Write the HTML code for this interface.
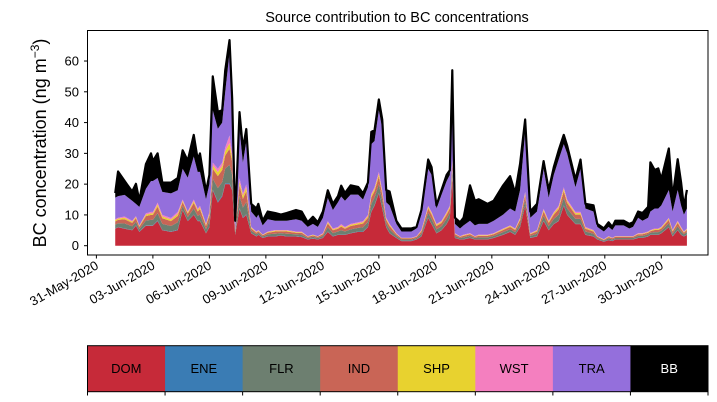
<!DOCTYPE html>
<html><head><meta charset="utf-8">
<style>
body{margin:0;background:#fff;}
svg{display:block;font-family:"Liberation Sans","DejaVu Sans",sans-serif;}
</style></head>
<body>
<svg id="chart" width="717" height="402" viewBox="0 0 717 402" xmlns="http://www.w3.org/2000/svg">
<rect width="717" height="402" fill="#fff"/>
<text x="397" y="22" font-size="14.5" text-anchor="middle">Source contribution to BC concentrations</text>
<text x="0" y="0" font-size="18" text-anchor="middle" transform="translate(46,143) rotate(-90)">BC concentration (ng m<tspan font-size="12" dy="-7">−3</tspan><tspan dy="7">)</tspan></text>
<g id="areas"></g>
<g id="axes"></g>
<rect x="87.5" y="30.5" width="620.5" height="224.5" fill="none" stroke="#000" stroke-width="1"/>
<g id="cbar"></g>
</svg>
<script>
const days = [1.0,1.15,1.5,1.9,2.1,2.28,2.63,2.9,3.0,3.25,3.5,3.96,4.32,4.58,4.85,5.17,5.38,5.5,5.82,6.0,6.18,6.45,6.68,6.84,7.07,7.21,7.37,7.6,7.78,7.96,8.22,8.5,8.6,8.83,9.1,9.5,9.8,10.1,10.6,10.9,11.22,11.5,11.76,12.03,12.29,12.56,12.83,13.0,13.2,13.5,13.9,14.16,14.42,14.6,14.77,15.0,15.18,15.39,15.57,15.93,16.2,16.73,17.0,17.26,17.62,17.8,18.06,18.33,18.6,18.77,18.9,19.04,19.31,19.5,19.84,20.1,20.3,20.77,21.1,21.6,21.97,22.24,22.5,22.77,23.04,23.4,23.75,24.02,24.29,24.55,24.82,25.0,25.44,25.71,25.97,26.4,26.6,26.95,27.2,27.4,27.56,28.0,28.3,28.5,28.77,29.0,29.3,29.42,29.65,29.84,30.0,30.4,30.6,30.87,31.05,31.2,31.36];
const dom = [5.5,6,5.5,5,6.5,4.5,6.5,6.5,6.5,8,5,4.5,5,11.5,8,10,8,8,4,6,18,14,16,20,20,18,3.5,12,9,10,4,3,3.5,2.5,3,3,3.3,3,3,2.8,2,2.3,2,2.5,4.5,3,3.5,3.5,3.5,4,4.5,4.5,6,11,13,17,12,6,4,2.5,1.5,1.5,2,3,9,7,4,5,7,9,22,2.5,2,2,2.5,2,2,2,2.5,3.5,4.5,3.5,6,13,2.5,3,8,5,7,8,13,10,7,7,3.5,3,2,1.3,1.8,1.5,2,2,2,2,2.5,2.5,3,3.5,3.5,3.5,4,6,3,5,3.5,3,3.5];
const ene = [0.1,0.1,0.1,0.1,0.1,0.1,0.1,0.1,0.1,0.2,0.1,0.1,0.2,0.1,0.1,0.1,0.1,0.1,0.1,0.1,0.2,0.3,0.3,0.3,0.3,0.3,0.1,0.2,0.2,0.2,0.1,0.1,0.1,0.1,0.1,0.1,0.1,0.1,0.1,0.1,0.1,0.1,0.1,0.1,0.1,0.1,0.1,0.1,0.1,0.1,0.1,0.1,0.1,0.2,0.2,0.2,0.2,0.1,0.1,0.1,0.1,0.1,0.1,0.1,0.1,0.1,0.1,0.1,0.1,0.1,0.2,0.1,0.1,0.1,0.1,0.1,0.1,0.1,0.1,0.1,0.1,0.1,0.1,0.1,0.1,0.1,0.1,0.1,0.1,0.1,0.2,0.1,0.1,0.1,0.1,0.1,0.1,0.1,0.1,0.1,0.1,0.1,0.1,0.1,0.1,0.1,0.1,0.1,0.1,0.1,0.1,0.1,0.1,0.1,0.1,0.1,0.1];
const flr = [1.2,1.2,1.6,1.2,1.2,0.8,1.6,1.8,1.8,2.4,2,1.8,2.4,1.4,1.2,2,1.6,2,1.2,2,3.6,4.4,4.4,4.8,6,4.8,0.6,4,3.2,4,0.8,0.6,0.6,0.4,0.6,0.8,0.7,0.8,0.6,0.7,0.4,0.5,0.4,0.6,1.4,1,1,1.4,1,1.2,1.2,1.4,1.6,2.4,2.4,2.8,2.4,1.2,1.2,0.6,0.4,0.4,0.4,0.8,1.6,1.6,1.2,1.2,1.6,1.6,2.4,0.6,0.4,0.6,0.6,0.4,0.6,0.6,0.6,0.8,0.8,0.8,1.2,1.8,0.6,0.8,1.6,1.2,1.6,2,2.4,2,1.6,1.6,1,0.8,0.4,0.3,0.5,0.4,0.4,0.4,0.4,0.4,0.6,0.6,0.6,0.6,0.8,0.8,0.8,1.2,0.8,1.2,1,0.6,0.8];
const ind = [1.1,1.1,1.4,1.1,1.1,0.7,1.4,1.6,1.6,2.1,1.8,1.6,2.1,1.2,1.1,1.8,1.4,1.8,1.1,1.8,3.2,3.9,3.9,4.2,5.2,4.2,0.5,3.5,2.8,3.5,0.7,0.5,0.5,0.4,0.5,0.7,0.6,0.7,0.5,0.6,0.4,0.4,0.4,0.5,1.2,0.9,0.9,1.2,0.9,1.1,1.1,1.2,1.4,2.1,2.1,2.5,2.1,1.1,1.1,0.5,0.4,0.4,0.4,0.7,1.4,1.4,1.1,1.1,1.4,1.4,2.1,0.5,0.4,0.5,0.5,0.4,0.5,0.5,0.5,0.7,0.7,0.7,1.1,1.6,0.5,0.7,1.4,1.1,1.4,1.8,2.1,1.8,1.4,1.4,0.9,0.7,0.4,0.2,0.4,0.4,0.4,0.4,0.4,0.4,0.5,0.5,0.5,0.5,0.7,0.7,0.7,1.1,0.7,1.1,0.9,0.5,0.7];
const shp = [.4,.4,.5,.4,.4,.3,.5,.5,.5,.7,.6,.5,.7,.4,.4,.6,.5,.6,.4,.6,1.1,1.3,1.3,1.4,1.8,1.4,.2,1.2,1,1.2,.3,.2,.2,.1,.2,.3,.2,.3,.2,.2,.1,.2,.1,.2,.4,.3,.3,.4,.3,.4,.4,.4,.5,.7,.7,.8,.7,.4,.4,.2,.1,.1,.1,.3,.5,.5,.4,.4,.5,.5,.7,.2,.1,.2,.2,.1,.2,.2,.2,.3,.3,.3,.4,.5,.2,.3,.5,.4,.5,.6,.7,.6,.5,.5,.3,.3,.1,.1,.2,.1,.1,.1,.1,.1,.2,.2,.2,.2,.3,.3,.3,.4,.3,.4,.3,.2,.3];
const wst = [.3,.3,.4,.3,.3,.2,.4,.5,.5,.6,.5,.5,.6,.4,.3,.5,.4,.5,.3,.5,.9,1.1,1.1,1.2,2.5,1.2,.2,1,.8,1,.2,.2,.2,.1,.2,.2,.2,.2,.2,.2,.1,.1,.1,.2,.4,.3,.3,.4,.3,.3,.3,.4,.4,.6,.6,.7,.6,.3,.3,.2,.1,.1,.1,.2,.4,.4,.3,.3,.4,.4,.6,.2,.1,.2,.2,.1,.2,.2,.2,.2,.2,.2,.3,.5,.2,.2,.4,.3,.4,.5,.6,.5,.4,.4,.3,.2,.1,.1,.1,.1,.1,.1,.1,.1,.2,.2,.2,.2,.2,.2,.2,.3,.2,.3,.3,.2,.2];
const tra = [7,7,7,6.5,4,6,8,10,10,8,7.5,8,7,10,11,14,12,11,8,9,17,13,13,18,27,14,2.5,16,10,14,5,4.5,5,3,4,3,3,3,4,3.5,3,3.5,3,5,7.5,6,8,9,8.5,9.5,9,7,9,16,15,20,20,5,6,3,2,2,2.5,5,12,12,5,8.5,10,10,24,3,2.5,3,4,3.5,3.5,3.5,4,4.5,5.5,5.5,9,19.5,5,6,13,7.5,12,15,14,15,8,14,6,6,3,2.5,3,2.5,3.5,3.5,2.5,3,5,4,4.5,6,6.5,6.5,7,9,6,10,7,5.5,6.5];
const bb = [1.5,8,4.5,3,6.5,2,8,9,6.5,8,3,3.5,4,6,5.5,7,4,6,2.5,3,11,5.5,4,7,4,4,0.5,5.5,4.5,4,2.5,3,3.5,1.5,2.5,2.5,2,2.5,3,3,1.5,2.3,1.5,2,2.5,2,2,3.5,2.5,3,2.5,2,1.5,4,3.5,3.5,3,4,4.5,1,1,1,0.5,1.5,3,2.5,1,1.5,2,1.5,5,2,2,2.5,11.5,8,8,6.5,6.5,9.5,10.5,6,8.5,4,2,2.5,2.5,2.5,2.5,3,3,2.5,2.5,3,1.5,2,1,1,1.5,1,1.5,1.5,1.5,1.5,2,2.5,3.5,16,12.5,13,8.5,13.5,4.5,10,7.5,2.5,6];
const sourceNames = ["DOM","ENE","FLR","IND","SHP","WST","TRA","BB"];
const sourceColors = ["#c62a39","#3a7cb4","#6d7f70","#c96556","#e8d22f","#f47fbf","#946fdc","#000000"];
const yTicks = [0,10,20,30,40,50,60];
const xTickLabels = ["31-May-2020","03-Jun-2020","06-Jun-2020","09-Jun-2020","12-Jun-2020","15-Jun-2020","18-Jun-2020","21-Jun-2020","24-Jun-2020","27-Jun-2020","30-Jun-2020"];
const xTickDays = [0,3,6,9,12,15,18,21,24,27,30];

const NS = "http://www.w3.org/2000/svg";
function xS(d){ return 96.4 + d*18.83; }
function yS(v){ return 245.7 - v*3.078; }
function mk(tag, attrs, parent){ const e=document.createElementNS(NS,tag); for(const k in attrs) e.setAttribute(k,attrs[k]); parent.appendChild(e); return e; }

const areas = document.getElementById('areas');
const series = [dom, ene, flr, ind, shp, wst, tra, bb];
let base = days.map(()=>0);
series.forEach((s, si) => {
  const top = base.map((b,i)=>b+s[i]);
  let d = "M" + days.map((t,i)=>xS(t).toFixed(2)+","+yS(top[i]).toFixed(2)).join(" L");
  for(let i=days.length-1;i>=0;i--) d += " L"+xS(days[i]).toFixed(2)+","+yS(base[i]).toFixed(2);
  d += " Z";
  const p = mk('path',{d:d, fill:sourceColors[si], stroke:'none'}, areas);
  
  
  if (si === series.length-1) {
    const l = mk('path',{d:"M"+days.map((t,i)=>xS(t).toFixed(2)+","+yS(top[i]).toFixed(2)).join(" L"), fill:'none', stroke:'#000', 'stroke-width':2.2, 'stroke-linejoin':'round'}, areas);
    
    
  }
  base = top;
});

const axes = document.getElementById('axes');
yTicks.forEach(v => {
  const y = yS(v);
  const t = mk('line',{x1:84,x2:87.5,y1:y,y2:y,stroke:'#000','stroke-width':1}, axes);
  
  
  const tx = mk('text',{x:79,y:y+4.5,'font-size':13,'text-anchor':'end'}, axes);
  tx.textContent = v;
  
  
});
xTickDays.forEach((d,i) => {
  const x = xS(d);
  const t = mk('line',{x1:x,x2:x,y1:255,y2:258.5,stroke:'#000','stroke-width':1}, axes);
  
  
  const tx = mk('text',{x:0,y:0,'font-size':13,'text-anchor':'end',transform:'translate('+(x+3)+',268) rotate(-30)'}, axes);
  tx.textContent = xTickLabels[i];
  
  
});

const cbar = document.getElementById('cbar');
const cx0 = 87.5, cw = 620.5/sourceNames.length;
sourceNames.forEach((n,i) => {
  const r = mk('rect',{x:cx0+i*cw,y:345.7,width:cw+0.5,height:46,fill:sourceColors[i]}, cbar);
  
  
  const t = mk('text',{x:cx0+(i+0.5)*cw,y:373,'font-size':13,'text-anchor':'middle',fill:(n==="BB"?"#fff":"#000")}, cbar);
  t.textContent = n;
  
  
});
for(let i=0;i<=sourceNames.length;i++){
  const x = cx0+i*cw;
  const tk = mk('line',{x1:x,x2:x,y1:391.7,y2:395.5,stroke:'#000','stroke-width':1}, cbar);
  
  
}
const fr = mk('rect',{x:cx0,y:345.7,width:620.5,height:46,fill:'none',stroke:'#000','stroke-width':1}, cbar);


</script>
</body></html>
